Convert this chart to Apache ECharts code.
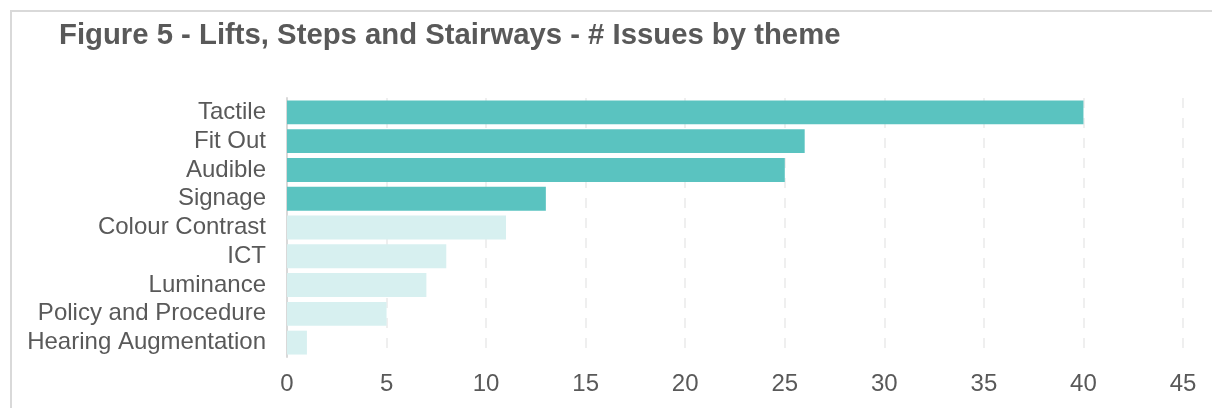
<!DOCTYPE html>
<html>
<head>
<meta charset="utf-8">
<script src="https://cdn.jsdelivr.net/npm/echarts@6/dist/echarts.min.js"></script>
<style>
    html, body { margin: 0; padding: 0; background: #fff; }
    #chart { width: 1212px; height: 408px; }
</style>
</head>
<body>
<div id="chart"></div>
<script>
    // data
    var categories = ['Tactile', 'Fit Out', 'Audible', 'Signage', 'Colour Contrast',
        'ICT', 'Luminance', 'Policy and Procedure', 'Hearing Augmentation'];
    var issues = [40, 26, 25, 13, 11, 8, 7, 5, 1];
    // top four themes are highlighted
    var highlighted = [true, true, true, true, false, false, false, false, false];

    var darkTeal = '#5ac3c0';
    var lightTeal = '#d7f0f0';
    var textGrey = '#595959';

    var myChart = echarts.init(document.getElementById('chart'));
    var options = {
        backgroundColor: '#fff',
        textStyle: { fontFamily: 'Liberation Sans, Arial, sans-serif' },
        title: {
            text: 'Figure 5 - Lifts, Steps and Stairways - # Issues by theme',
            left: 54,
            top: 16,
            textStyle: {
                color: textGrey,
                fontSize: 29.3,
                fontWeight: 'bold',
                fontFamily: 'Liberation Sans, Arial, sans-serif'
            }
        },
        graphic: [{
            // frame around the chart, cut off at the right and bottom
            type: 'rect',
            shape: { x: 11, y: 11, width: 1300, height: 500 },
            style: { fill: 'none', stroke: '#d9d9d9', lineWidth: 2 },
            silent: true
        }],
        grid: {
            left: 287,
            right: 29,
            top: 98,
            bottom: 51
        },
        xAxis: {
            type: 'value',
            min: 0,
            max: 45,
            interval: 5,
            axisLine: { show: false },
            axisTick: { show: false },
            axisLabel: {
                color: textGrey,
                fontSize: 24,
                margin: 15
            },
            splitLine: {
                show: true,
                lineStyle: { color: '#efefef', width: 2, type: [10, 10] }
            }
        },
        yAxis: {
            type: 'category',
            inverse: true,
            data: categories,
            axisLine: { show: true, lineStyle: { color: '#d9d9d9', width: 2 } },
            axisTick: { show: false },
            axisLabel: {
                color: textGrey,
                fontSize: 24,
                margin: 21,
                interval: 0
            }
        },
        series: [{
            type: 'bar',
            barCategoryGap: '17%',
            data: issues.map(function (v, i) {
                return { value: v, itemStyle: { color: highlighted[i] ? darkTeal : lightTeal } };
            }),
            z: 3
        }]
    };
    myChart.setOption(options);
    window.addEventListener('resize', myChart.resize);
</script>
</body>
</html>
